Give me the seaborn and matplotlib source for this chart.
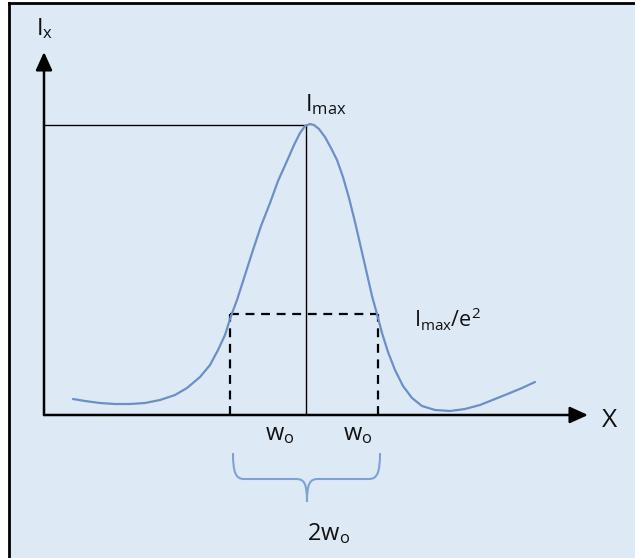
import matplotlib
matplotlib.use("Agg")
import matplotlib.pyplot as plt
from matplotlib.patches import Rectangle, FancyArrowPatch, PathPatch
from matplotlib.path import Path
import seaborn as sns
import pandas as pd

# Beam intensity profile across the transverse axis
beam_x = [29, 41, 56, 71, 86, 101, 116, 131, 143, 156, 166, 174, 181, 187, 193,
          201, 209, 217, 226, 234, 243, 250, 256, 261, 266, 270, 275, 281, 287,
          293, 299, 305, 311, 317, 323, 328, 333, 338, 344, 351, 359, 368, 378,
          391, 406, 421, 436, 451, 466, 478, 491]
beam_i = [16, 14, 12, 11, 11, 12, 15, 20, 27, 38, 50, 65, 80, 99, 115,
          140, 165, 189, 212, 234, 254, 270, 282, 289, 291, 290, 286, 278, 267,
          255, 238, 217, 193, 167, 141, 119, 101, 82, 63, 45, 29, 17, 9,
          5, 4, 6, 10, 16, 22, 27, 33]

# Reference levels and positions
i_max = 290          # peak intensity
i_e2 = 101           # Imax / e^2 level
x_center = 262       # beam centre
w_left = 186         # -w0 crossing
w_right = 334        # +w0 crossing
x_axis_end = 544
y_axis_end = 363

sns.set_theme(style="white")
plt.rcParams["font.family"] = ["Open Sans", "DejaVu Sans"]
plt.rcParams["mathtext.default"] = "regular"

W, H = 635, 558
fig = plt.figure(figsize=(W / 100, H / 100), dpi=100, facecolor="white")
bg = "#DEE9F6"

ax = fig.add_axes([0, 0, 1, 1])
ax.set_xlim(-44, W - 44)
ax.set_ylim(415 - H, 415)
ax.axis("off")

# framed panel: light fill, black rule on the left and top
left, topf = 8.5 / W, 1 - 2.5 / H
ax.add_patch(Rectangle((left, 0), 1 - left, topf, transform=fig.transFigure,
                       facecolor=bg, edgecolor="none", zorder=0, clip_on=False))
ax.plot([left, left], [0, topf], transform=fig.transFigure, color="black",
        lw=2.0, clip_on=False, zorder=1, solid_capstyle="projecting")
ax.plot([left, 1], [topf, topf], transform=fig.transFigure, color="black",
        lw=2.0, clip_on=False, zorder=1, solid_capstyle="projecting")

df = pd.DataFrame({"x": beam_x, "I": beam_i})
sns.lineplot(data=df, x="x", y="I", sort=False, estimator=None, ax=ax,
             color="#6C8FC8", linewidth=1.6, zorder=3)

# axes with arrows
for (x0, y0, x1, y1) in [(0, 0, x_axis_end, 0), (0, 0, 0, y_axis_end)]:
    ax.add_patch(FancyArrowPatch((x0, y0), (x1, y1),
                                 arrowstyle="-|>,head_length=11,head_width=5",
                                 mutation_scale=1, color="black",
                                 linewidth=1.8, shrinkA=0, shrinkB=0, zorder=4))

# peak guide lines
ax.plot([0, x_center], [i_max, i_max], color="black", lw=1.0, zorder=2)
ax.plot([x_center, x_center], [0, i_max], color="black", lw=1.0, zorder=2)

# 1/e^2 dashed box
dash = dict(color="black", lw=1.6, ls=(0, (4, 3)), zorder=2)
ax.plot([w_left, w_right], [i_e2, i_e2], **dash)
ax.plot([w_left, w_left], [0, i_e2], **dash)
ax.plot([w_right, w_right], [0, i_e2], **dash)

# labels
txt = dict(ha="left", va="baseline", color="#111111")
ax.text(-8, 380, r"$I_x$", fontsize=17, **txt)
ax.text(x_center - 1, 304, r"$I_{max}$", fontsize=17, **txt)
ax.text(370, 88, r"$I_{max}/e^2$", fontsize=15.5, **txt)
ax.text(221, -25, r"$w_o$", fontsize=17, **txt)
ax.text(299, -25, r"$w_o$", fontsize=17, **txt)
ax.text(263, -125, r"$2w_o$", fontsize=17, **txt)
ax.text(558, -12, "X", fontsize=19, **txt)

# curly brace spanning 2w0
top, bot, tip = -38, -64, -87
bl, br, bc = w_left + 3, w_right + 2, x_center + 1
verts = [(bl, top), (bl, bot + 6), (bl + 3, bot), (bl + 11, bot),
         (bc - 11, bot), (bc - 3, bot), (bc, bot - 4), (bc, tip),
         (bc, bot - 4), (bc + 3, bot), (bc + 11, bot),
         (br - 11, bot), (br - 3, bot), (br, bot + 6), (br, top)]
codes = [Path.MOVETO, Path.CURVE4, Path.CURVE4, Path.CURVE4,
         Path.LINETO, Path.CURVE4, Path.CURVE4, Path.CURVE4,
         Path.CURVE4, Path.CURVE4, Path.CURVE4,
         Path.LINETO, Path.CURVE4, Path.CURVE4, Path.CURVE4]
ax.add_patch(PathPatch(Path(verts, codes), facecolor="none",
                       edgecolor="#7FA2D4", lw=1.5, zorder=3))

fig.savefig("out.png", dpi=100, facecolor=fig.get_facecolor())
